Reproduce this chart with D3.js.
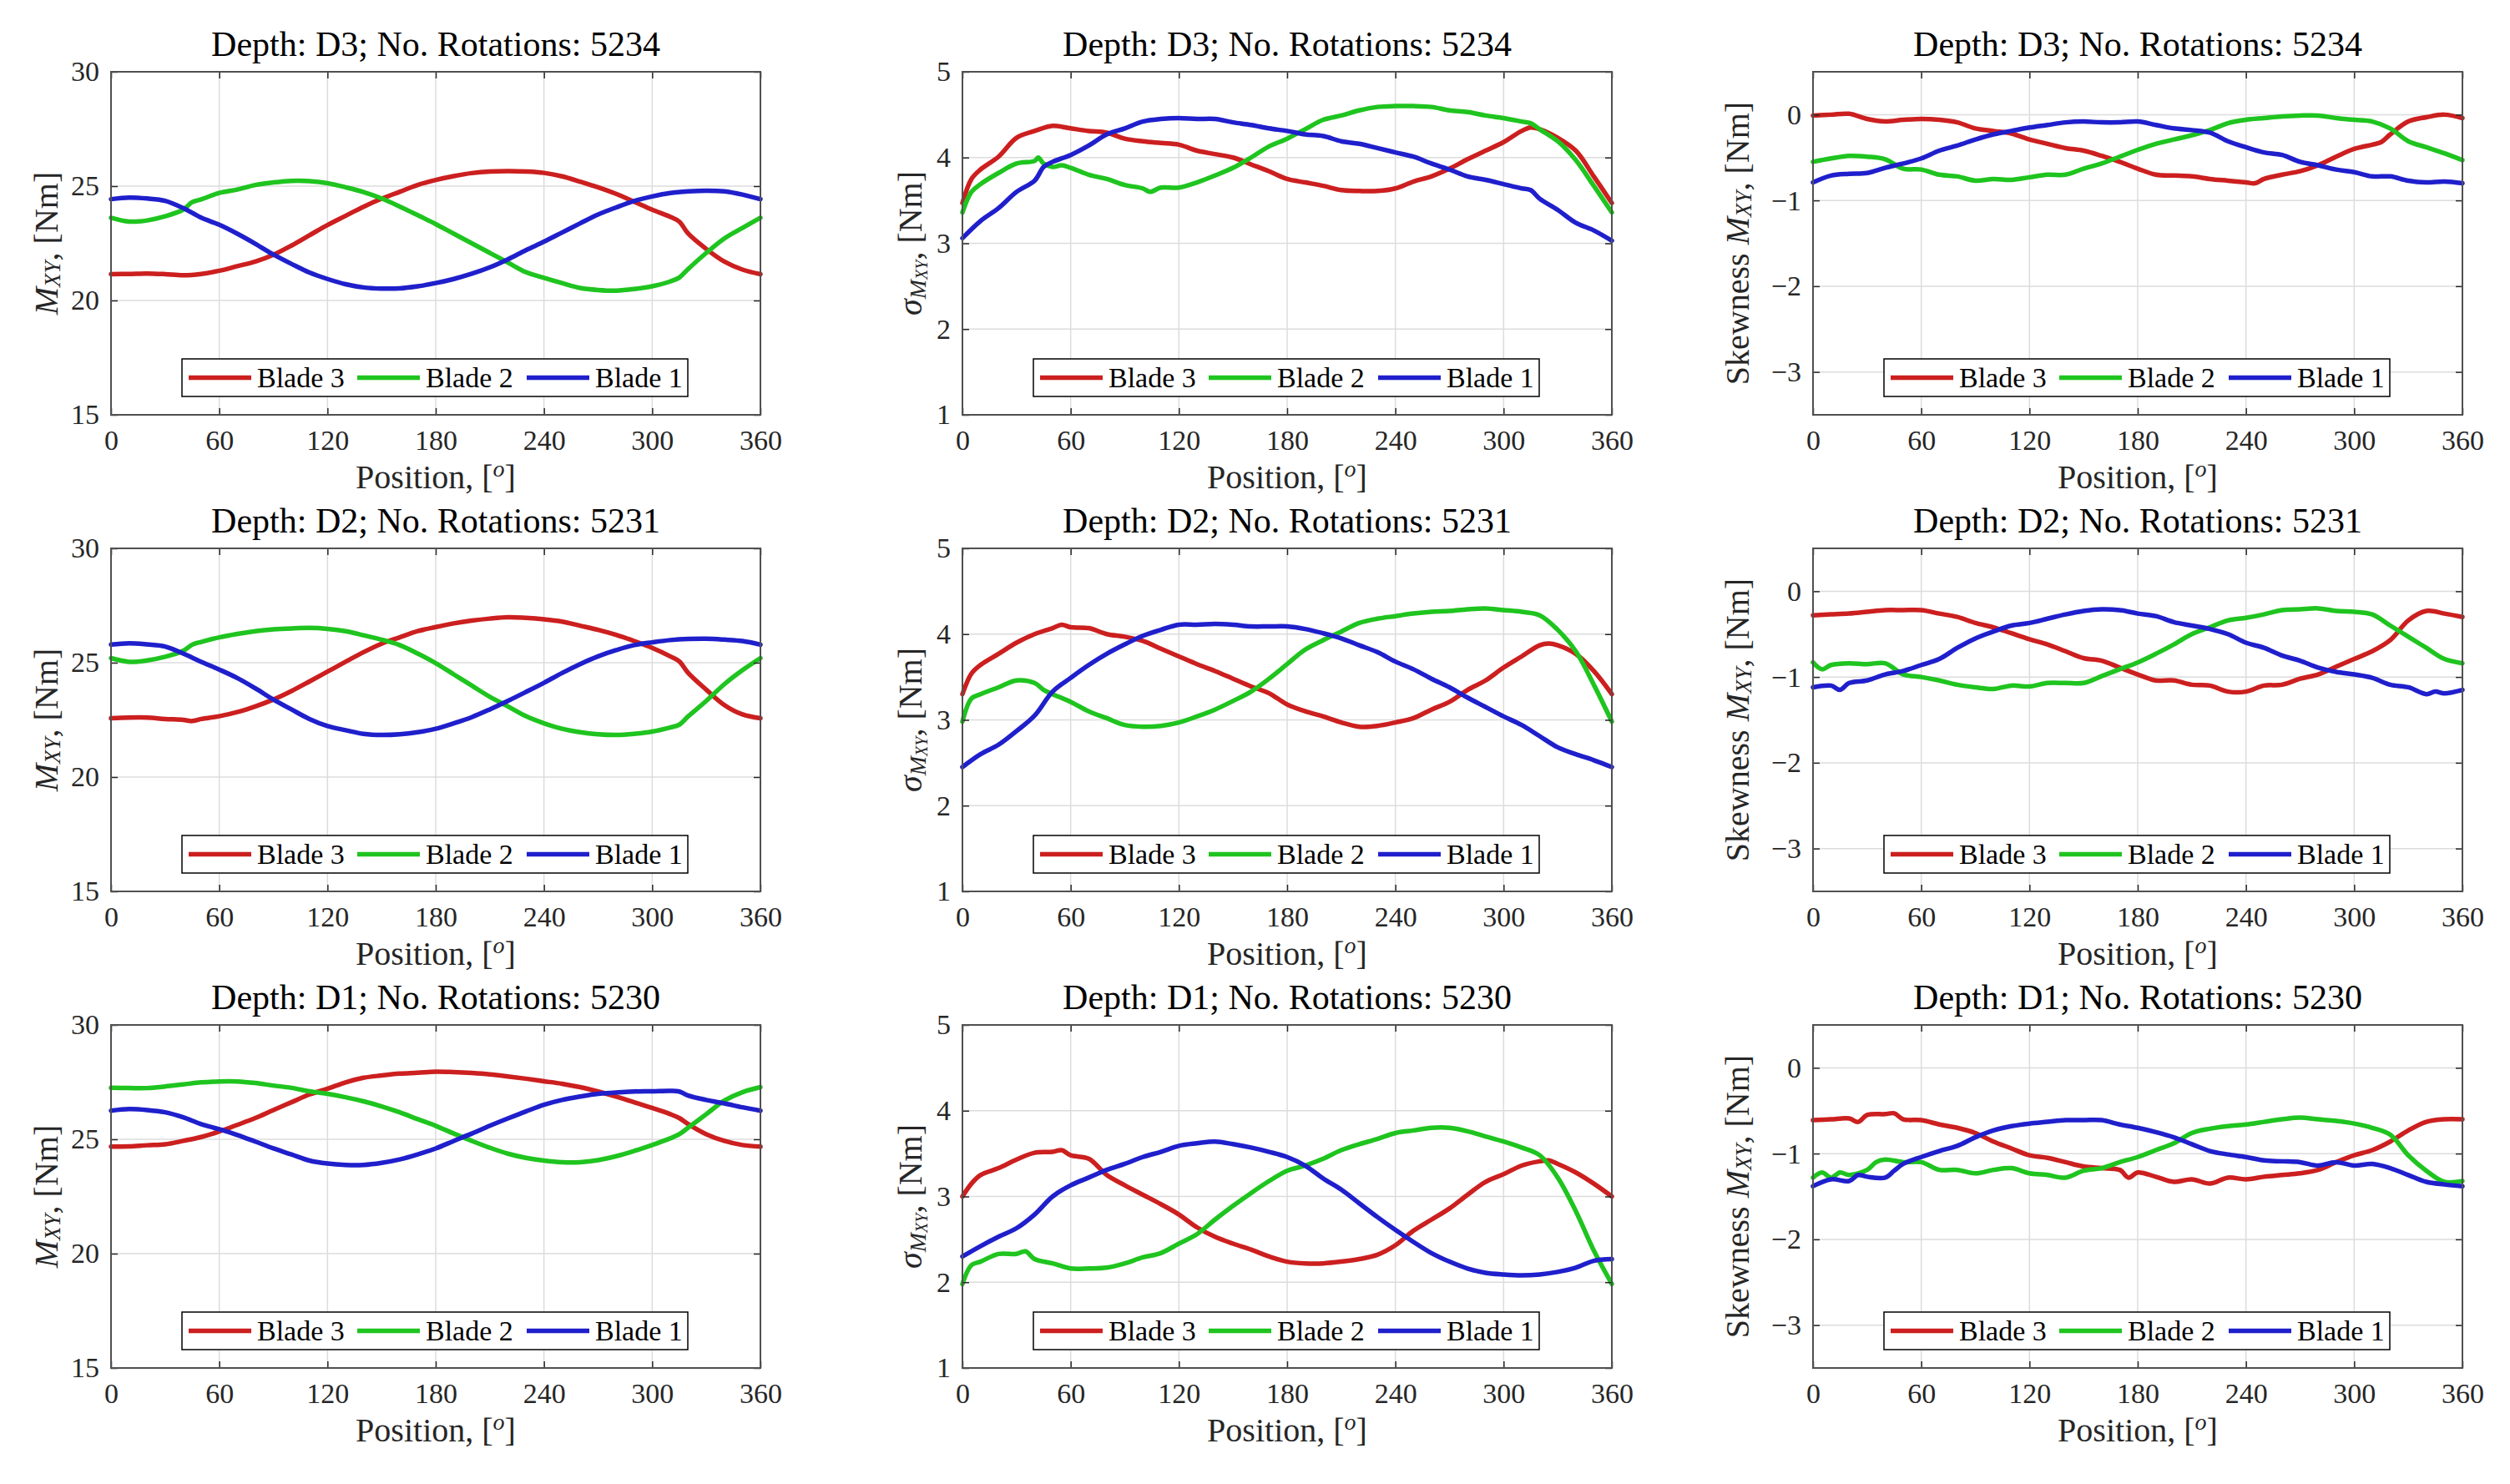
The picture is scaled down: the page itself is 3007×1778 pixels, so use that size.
<!DOCTYPE html>
<html>
<head>
<meta charset="utf-8">
<script src="https://cdn.jsdelivr.net/npm/d3@7"></script>
<style>
  body { margin: 0; background: #fff; }
</style>
</head>
<body>
<script>
// ---- data (position in degrees, value) ----
var depths = ["D3", "D2", "D1"];
var rotations = [5234, 5231, 5230];
var blades = ["Blade 3", "Blade 2", "Blade 1"];
var bladeColors = ["#cc1f1f", "#1fc41f", "#1f1fcc"];
var xTicks = [0, 60, 120, 180, 240, 300, 360];
var meanTicks = [15, 20, 25, 30];
var stdTicks = [1, 2, 3, 4, 5];
var skewTicks = [-3, -2, -1, 0];

// Depth D3 - mean
var meanD3B3 = [[0,21.15],[10,21.16],[20,21.18],[30,21.15],[40,21.1],[50,21.16],[60,21.3],[70,21.5],[80,21.7],[90,22.0],[100,22.4],[110,22.85],[120,23.3],[130,23.7],[140,24.1],[150,24.45],[160,24.75],[170,25.05],[180,25.27],[190,25.44],[200,25.57],[210,25.64],[220,25.66],[230,25.64],[240,25.58],[250,25.43],[260,25.2],[270,24.95],[280,24.66],[290,24.32],[300,23.97],[310,23.66],[315,23.45],[320,22.92],[330,22.25],[340,21.7],[350,21.35],[360,21.15]];
var meanD3B2 = [[0,23.62],[10,23.45],[20,23.5],[30,23.68],[40,23.97],[45,24.3],[50,24.42],[60,24.7],[70,24.85],[80,25.05],[90,25.16],[100,25.23],[110,25.22],[120,25.13],[130,24.95],[140,24.74],[150,24.46],[160,24.11],[170,23.73],[180,23.34],[190,22.92],[200,22.5],[210,22.08],[220,21.66],[230,21.24],[240,20.99],[250,20.76],[260,20.55],[270,20.46],[280,20.43],[290,20.5],[300,20.62],[310,20.83],[315,21.0],[320,21.38],[330,22.08],[340,22.71],[350,23.17],[360,23.62]];
var meanD3B1 = [[0,24.43],[10,24.5],[20,24.46],[30,24.36],[40,24.04],[50,23.62],[60,23.31],[70,22.92],[80,22.48],[90,22.01],[100,21.6],[110,21.22],[120,20.94],[130,20.71],[140,20.57],[150,20.52],[160,20.53],[170,20.62],[180,20.76],[190,20.94],[200,21.17],[210,21.45],[220,21.8],[230,22.2],[240,22.57],[250,22.97],[260,23.37],[270,23.76],[280,24.07],[290,24.35],[300,24.55],[310,24.7],[320,24.77],[330,24.8],[340,24.77],[350,24.63],[360,24.43]];
// Depth D3 - standard deviation
var stdD3B3 = [[0,3.47],[5,3.75],[10,3.86],[20,4.01],[30,4.23],[40,4.31],[50,4.37],[60,4.34],[70,4.31],[80,4.29],[90,4.22],[100,4.19],[110,4.17],[120,4.15],[130,4.08],[140,4.04],[150,4.0],[160,3.92],[170,3.84],[180,3.75],[190,3.71],[200,3.67],[210,3.62],[220,3.61],[230,3.61],[240,3.64],[250,3.72],[260,3.78],[270,3.87],[280,3.98],[290,4.08],[300,4.18],[310,4.31],[315,4.35],[320,4.33],[330,4.23],[340,4.08],[350,3.78],[360,3.47]];
var stdD3B2 = [[0,3.36],[5,3.6],[10,3.69],[20,3.82],[30,3.93],[40,3.96],[42,4.0],[45,3.93],[50,3.89],[55,3.91],[60,3.88],[70,3.8],[80,3.75],[90,3.68],[100,3.64],[104,3.6],[110,3.65],[120,3.65],[130,3.71],[140,3.79],[150,3.88],[160,4.0],[170,4.13],[180,4.22],[190,4.33],[200,4.44],[210,4.49],[220,4.55],[230,4.59],[240,4.6],[250,4.6],[260,4.59],[270,4.55],[280,4.53],[290,4.49],[300,4.46],[310,4.42],[315,4.4],[320,4.33],[330,4.19],[340,3.97],[350,3.67],[360,3.36]];
var stdD3B1 = [[0,3.06],[10,3.26],[20,3.41],[30,3.6],[40,3.73],[45,3.89],[50,3.95],[60,4.03],[70,4.14],[80,4.27],[90,4.34],[100,4.42],[110,4.45],[120,4.46],[130,4.45],[140,4.45],[150,4.41],[160,4.38],[170,4.34],[180,4.31],[190,4.27],[200,4.25],[210,4.19],[220,4.16],[230,4.11],[240,4.06],[250,4.01],[260,3.93],[270,3.86],[280,3.78],[290,3.74],[300,3.69],[310,3.64],[315,3.62],[320,3.52],[330,3.39],[340,3.24],[350,3.15],[360,3.03]];
// Depth D3 - skewness
var skewD3B3 = [[0,-0.01],[10,0.0],[20,0.01],[30,-0.05],[40,-0.08],[50,-0.06],[60,-0.05],[70,-0.06],[80,-0.09],[90,-0.16],[100,-0.19],[110,-0.22],[120,-0.29],[130,-0.34],[140,-0.39],[150,-0.42],[160,-0.48],[170,-0.55],[180,-0.63],[190,-0.7],[200,-0.71],[210,-0.72],[220,-0.75],[230,-0.77],[240,-0.79],[245,-0.8],[250,-0.75],[260,-0.7],[270,-0.66],[280,-0.59],[290,-0.49],[300,-0.4],[310,-0.35],[315,-0.32],[320,-0.23],[330,-0.08],[340,-0.03],[350,0.0],[360,-0.04]];
var skewD3B2 = [[0,-0.55],[10,-0.51],[20,-0.48],[30,-0.49],[40,-0.52],[50,-0.63],[60,-0.64],[70,-0.7],[80,-0.72],[90,-0.77],[100,-0.75],[110,-0.76],[120,-0.73],[130,-0.7],[140,-0.7],[150,-0.63],[160,-0.57],[170,-0.49],[180,-0.41],[190,-0.34],[200,-0.29],[210,-0.24],[220,-0.18],[230,-0.1],[240,-0.06],[250,-0.04],[260,-0.02],[270,-0.01],[280,-0.01],[290,-0.04],[300,-0.06],[310,-0.08],[320,-0.16],[330,-0.31],[340,-0.38],[350,-0.45],[360,-0.53]];
var skewD3B1 = [[0,-0.79],[10,-0.71],[20,-0.69],[30,-0.68],[40,-0.62],[50,-0.57],[60,-0.51],[70,-0.42],[80,-0.36],[90,-0.29],[100,-0.23],[110,-0.19],[120,-0.15],[130,-0.12],[140,-0.09],[150,-0.08],[160,-0.09],[170,-0.09],[180,-0.08],[190,-0.12],[200,-0.16],[210,-0.18],[220,-0.21],[230,-0.31],[240,-0.38],[250,-0.44],[260,-0.47],[270,-0.55],[280,-0.59],[290,-0.64],[300,-0.67],[310,-0.72],[320,-0.72],[330,-0.77],[340,-0.79],[350,-0.78],[360,-0.8]];

// Depth D2 - mean
var meanD2B3 = [[0,22.57],[10,22.6],[20,22.6],[30,22.54],[40,22.5],[45,22.45],[50,22.54],[60,22.66],[70,22.84],[80,23.09],[90,23.39],[100,23.76],[110,24.18],[120,24.61],[130,25.04],[140,25.46],[150,25.83],[160,26.11],[170,26.38],[180,26.56],[190,26.72],[200,26.84],[210,26.93],[220,26.99],[230,26.96],[240,26.9],[250,26.8],[260,26.62],[270,26.44],[280,26.22],[290,25.95],[300,25.65],[310,25.28],[315,25.06],[320,24.55],[330,23.82],[340,23.15],[350,22.74],[360,22.57]];
var meanD2B2 = [[0,25.2],[10,25.04],[20,25.1],[30,25.26],[40,25.52],[45,25.79],[50,25.91],[60,26.11],[70,26.26],[80,26.38],[90,26.46],[100,26.5],[110,26.52],[120,26.48],[130,26.38],[140,26.2],[150,26.01],[160,25.77],[170,25.4],[180,24.98],[190,24.49],[200,24.0],[210,23.51],[220,23.09],[230,22.66],[240,22.35],[250,22.11],[260,21.96],[270,21.87],[280,21.84],[290,21.89],[300,21.99],[310,22.17],[315,22.29],[320,22.66],[330,23.33],[340,24.06],[350,24.67],[360,25.2]];
var meanD2B1 = [[0,25.79],[10,25.85],[20,25.8],[30,25.71],[40,25.4],[50,25.04],[60,24.7],[70,24.33],[80,23.88],[90,23.39],[100,22.96],[110,22.54],[120,22.23],[130,22.05],[140,21.89],[150,21.84],[160,21.87],[170,21.96],[180,22.11],[190,22.35],[200,22.62],[210,22.96],[220,23.33],[230,23.72],[240,24.12],[250,24.55],[260,24.94],[270,25.28],[280,25.55],[290,25.77],[300,25.89],[310,25.99],[320,26.04],[330,26.05],[340,26.01],[350,25.95],[360,25.79]];
// Depth D2 - standard deviation
var stdD2B3 = [[0,3.3],[5,3.54],[10,3.64],[20,3.77],[30,3.9],[40,4.0],[50,4.07],[55,4.11],[60,4.08],[70,4.07],[80,4.0],[90,3.97],[100,3.92],[110,3.83],[120,3.74],[130,3.65],[140,3.57],[150,3.48],[160,3.39],[170,3.31],[180,3.18],[190,3.1],[200,3.04],[210,2.97],[220,2.92],[230,2.93],[240,2.97],[250,3.02],[260,3.12],[270,3.21],[280,3.35],[290,3.46],[300,3.61],[310,3.74],[320,3.87],[325,3.89],[330,3.87],[340,3.77],[350,3.57],[360,3.3]];
var stdD2B2 = [[0,2.98],[5,3.25],[10,3.3],[20,3.38],[30,3.46],[40,3.43],[45,3.35],[50,3.3],[60,3.21],[70,3.1],[80,3.02],[90,2.94],[100,2.92],[110,2.93],[120,2.97],[130,3.04],[140,3.12],[150,3.22],[160,3.33],[170,3.48],[180,3.65],[190,3.82],[200,3.93],[210,4.03],[220,4.13],[230,4.18],[240,4.21],[250,4.24],[260,4.26],[270,4.27],[280,4.29],[290,4.3],[300,4.28],[310,4.26],[320,4.22],[330,4.05],[340,3.8],[350,3.41],[360,2.98]];
var stdD2B1 = [[0,2.45],[10,2.6],[20,2.71],[30,2.87],[40,3.05],[50,3.33],[60,3.49],[70,3.64],[80,3.77],[90,3.88],[100,3.98],[110,4.05],[120,4.11],[130,4.11],[140,4.12],[150,4.11],[160,4.09],[170,4.09],[180,4.09],[190,4.06],[200,4.01],[210,3.95],[220,3.87],[230,3.79],[240,3.68],[250,3.59],[260,3.48],[270,3.38],[280,3.26],[290,3.15],[300,3.04],[310,2.94],[320,2.81],[330,2.68],[340,2.6],[350,2.53],[360,2.45]];
// Depth D2 - skewness
var skewD2B3 = [[0,-0.28],[10,-0.27],[20,-0.26],[30,-0.24],[40,-0.22],[50,-0.22],[60,-0.22],[70,-0.26],[80,-0.3],[90,-0.37],[100,-0.42],[110,-0.49],[120,-0.56],[130,-0.62],[140,-0.7],[150,-0.78],[160,-0.81],[170,-0.89],[180,-0.97],[190,-1.04],[200,-1.04],[210,-1.09],[220,-1.1],[230,-1.17],[240,-1.17],[250,-1.1],[260,-1.09],[270,-1.02],[280,-0.97],[290,-0.88],[300,-0.79],[310,-0.7],[320,-0.57],[330,-0.34],[340,-0.23],[350,-0.26],[360,-0.3]];
var skewD2B2 = [[0,-0.83],[5,-0.91],[10,-0.86],[20,-0.84],[30,-0.85],[40,-0.84],[50,-0.97],[60,-1.0],[70,-1.04],[80,-1.09],[90,-1.12],[100,-1.14],[110,-1.1],[120,-1.11],[130,-1.07],[140,-1.07],[150,-1.07],[160,-0.99],[170,-0.91],[180,-0.83],[190,-0.73],[200,-0.62],[210,-0.5],[220,-0.42],[230,-0.34],[240,-0.31],[250,-0.27],[260,-0.22],[270,-0.21],[280,-0.2],[290,-0.23],[300,-0.24],[310,-0.27],[320,-0.4],[330,-0.53],[340,-0.66],[350,-0.79],[360,-0.84]];
var skewD2B1 = [[0,-1.12],[10,-1.1],[15,-1.15],[20,-1.07],[30,-1.04],[40,-0.97],[50,-0.93],[60,-0.86],[70,-0.79],[80,-0.66],[90,-0.55],[100,-0.47],[110,-0.4],[120,-0.37],[130,-0.32],[140,-0.27],[150,-0.23],[160,-0.21],[170,-0.22],[180,-0.26],[190,-0.29],[200,-0.36],[210,-0.4],[220,-0.44],[230,-0.5],[240,-0.6],[250,-0.66],[260,-0.75],[270,-0.81],[280,-0.89],[290,-0.94],[300,-0.97],[310,-1.01],[320,-1.09],[330,-1.12],[340,-1.2],[345,-1.17],[350,-1.19],[360,-1.15]];

// Depth D1 - mean
var meanD1B3 = [[0,24.68],[10,24.69],[20,24.74],[30,24.78],[40,24.93],[50,25.1],[60,25.34],[70,25.63],[80,25.93],[90,26.28],[100,26.62],[110,26.96],[120,27.21],[130,27.49],[140,27.69],[150,27.79],[160,27.87],[170,27.91],[180,27.96],[190,27.94],[200,27.9],[210,27.84],[220,27.75],[230,27.65],[240,27.54],[250,27.43],[260,27.28],[270,27.09],[280,26.87],[290,26.62],[300,26.37],[310,26.1],[315,25.93],[320,25.66],[330,25.22],[340,24.93],[350,24.75],[360,24.68]];
var meanD1B2 = [[0,27.25],[10,27.24],[20,27.24],[30,27.31],[40,27.4],[50,27.49],[60,27.53],[70,27.53],[80,27.46],[90,27.35],[100,27.25],[110,27.1],[120,26.99],[130,26.84],[140,26.66],[150,26.44],[160,26.18],[170,25.88],[180,25.59],[190,25.25],[200,24.93],[210,24.63],[220,24.37],[230,24.19],[240,24.07],[250,24.0],[260,24.0],[270,24.09],[280,24.26],[290,24.49],[300,24.75],[310,25.04],[315,25.22],[320,25.51],[330,26.1],[340,26.69],[350,27.06],[360,27.28]];
var meanD1B1 = [[0,26.25],[10,26.32],[20,26.28],[30,26.18],[40,25.96],[50,25.66],[60,25.44],[70,25.19],[80,24.9],[90,24.6],[100,24.34],[110,24.07],[120,23.94],[130,23.88],[140,23.88],[150,23.97],[160,24.12],[170,24.34],[180,24.6],[190,24.93],[200,25.25],[210,25.59],[220,25.91],[230,26.22],[240,26.51],[250,26.72],[260,26.87],[270,26.99],[280,27.04],[290,27.09],[300,27.1],[310,27.12],[315,27.09],[320,26.91],[330,26.72],[340,26.57],[350,26.4],[360,26.25]];
// Depth D1 - standard deviation
var stdD1B3 = [[0,3.0],[5,3.15],[10,3.25],[20,3.33],[30,3.43],[40,3.51],[50,3.52],[55,3.54],[60,3.48],[70,3.44],[80,3.25],[90,3.13],[100,3.02],[110,2.91],[120,2.79],[130,2.64],[140,2.53],[150,2.45],[160,2.38],[170,2.3],[180,2.24],[190,2.22],[200,2.22],[210,2.24],[220,2.27],[230,2.32],[240,2.43],[250,2.6],[260,2.73],[270,2.86],[280,3.02],[290,3.17],[300,3.26],[310,3.36],[320,3.41],[325,3.42],[330,3.38],[340,3.28],[350,3.15],[360,3.0]];
var stdD1B2 = [[0,1.98],[5,2.2],[10,2.24],[20,2.33],[30,2.33],[35,2.36],[40,2.27],[50,2.22],[60,2.16],[70,2.16],[80,2.17],[90,2.22],[100,2.29],[110,2.34],[120,2.45],[130,2.56],[140,2.73],[150,2.89],[160,3.04],[170,3.18],[180,3.3],[190,3.36],[200,3.44],[210,3.54],[220,3.61],[230,3.67],[240,3.74],[250,3.77],[260,3.8],[270,3.8],[280,3.76],[290,3.7],[300,3.64],[310,3.57],[320,3.48],[330,3.22],[340,2.83],[350,2.37],[360,1.98]];
var stdD1B1 = [[0,2.3],[10,2.42],[20,2.53],[30,2.63],[40,2.79],[50,3.0],[60,3.13],[70,3.22],[80,3.31],[90,3.38],[100,3.46],[110,3.52],[120,3.59],[130,3.62],[140,3.64],[150,3.61],[160,3.57],[170,3.52],[180,3.46],[190,3.36],[200,3.21],[210,3.08],[220,2.92],[230,2.76],[240,2.61],[250,2.47],[260,2.34],[270,2.24],[280,2.16],[290,2.11],[300,2.09],[310,2.08],[320,2.09],[330,2.12],[340,2.17],[350,2.25],[360,2.27]];
// Depth D1 - skewness
var skewD1B3 = [[0,-0.61],[10,-0.6],[20,-0.59],[25,-0.63],[30,-0.55],[40,-0.54],[45,-0.53],[50,-0.6],[60,-0.61],[70,-0.66],[80,-0.7],[90,-0.76],[100,-0.86],[110,-0.94],[120,-1.02],[130,-1.05],[140,-1.1],[150,-1.15],[160,-1.17],[170,-1.19],[175,-1.28],[180,-1.22],[190,-1.27],[200,-1.33],[210,-1.3],[220,-1.35],[230,-1.28],[240,-1.3],[250,-1.27],[260,-1.25],[270,-1.23],[280,-1.19],[290,-1.1],[300,-1.02],[310,-0.96],[320,-0.86],[330,-0.73],[340,-0.63],[350,-0.6],[360,-0.6]];
var skewD1B2 = [[0,-1.28],[5,-1.22],[10,-1.28],[15,-1.22],[20,-1.25],[30,-1.19],[35,-1.1],[40,-1.07],[50,-1.1],[60,-1.1],[70,-1.19],[80,-1.19],[90,-1.23],[100,-1.19],[110,-1.17],[120,-1.23],[130,-1.25],[140,-1.28],[150,-1.2],[160,-1.17],[170,-1.1],[180,-1.04],[190,-0.96],[200,-0.88],[210,-0.76],[220,-0.71],[230,-0.68],[240,-0.66],[250,-0.63],[260,-0.6],[270,-0.58],[280,-0.6],[290,-0.62],[300,-0.65],[310,-0.7],[320,-0.78],[330,-1.02],[340,-1.2],[350,-1.33],[360,-1.32]];
var skewD1B1 = [[0,-1.38],[10,-1.3],[20,-1.32],[25,-1.25],[30,-1.27],[40,-1.28],[45,-1.2],[50,-1.12],[60,-1.04],[70,-0.97],[80,-0.91],[90,-0.81],[100,-0.73],[110,-0.68],[120,-0.65],[130,-0.63],[140,-0.61],[150,-0.61],[160,-0.61],[170,-0.66],[180,-0.7],[190,-0.75],[200,-0.81],[210,-0.89],[220,-0.97],[230,-1.01],[240,-1.04],[250,-1.08],[260,-1.09],[270,-1.1],[280,-1.14],[290,-1.1],[300,-1.14],[310,-1.12],[320,-1.17],[330,-1.25],[340,-1.33],[350,-1.36],[360,-1.38]];

// rows = depth, columns = statistic
var panelSeries = [
  [[meanD3B3, meanD3B2, meanD3B1], [stdD3B3, stdD3B2, stdD3B1], [skewD3B3, skewD3B2, skewD3B1]],
  [[meanD2B3, meanD2B2, meanD2B1], [stdD2B3, stdD2B2, stdD2B1], [skewD2B3, skewD2B2, skewD2B1]],
  [[meanD1B3, meanD1B2, meanD1B1], [stdD1B3, stdD1B2, stdD1B1], [skewD1B3, skewD1B2, skewD1B1]]
];
var yDomains = [[15, 30], [1, 5], [-3.5, 0.5]];
var yTickSets = [meanTicks, stdTicks, skewTicks];

// ---- layout ----
var W = 3007, H = 1778;
var colLeft = [133, 1153, 2172];
var rowTop = [86, 657, 1228];
var pw = 778, ph = 411;
var ylabelOffset = [78, 63, 91];
var serif = "'Liberation Serif', 'DejaVu Serif', 'Times New Roman', serif";

var svg = d3.select("body").append("svg")
    .attr("width", W).attr("height", H)
    .attr("viewBox", "0 0 " + W + " " + H)
    .attr("font-family", serif);

function yLabel(g, col) {
    var t = g.append("text")
        .attr("transform", "translate(" + (-ylabelOffset[col]) + "," + (ph / 2) + ") rotate(-90)")
        .attr("text-anchor", "middle")
        .attr("dominant-baseline", "central")
        .attr("fill", "#262626")
        .attr("font-family", serif)
        .attr("font-size", 40);
    if (col == 0) {
        t.append("tspan").attr("font-style", "italic").text("M");
        t.append("tspan").attr("font-style", "italic").attr("font-size", 27).attr("dy", 8).text("XY");
        t.append("tspan").attr("dy", -8).text(",  [Nm]");
    } else if (col == 1) {
        t.append("tspan").attr("font-style", "italic").text("σ");
        t.append("tspan").attr("font-style", "italic").attr("font-size", 28).attr("dy", 9).text("M");
        t.append("tspan").attr("font-style", "italic").attr("font-size", 20).attr("dy", 5).text("XY");
        t.append("tspan").attr("dy", -14).text(",  [Nm]");
    } else {
        t.append("tspan").text("Skewness  ");
        t.append("tspan").attr("font-style", "italic").text("M");
        t.append("tspan").attr("font-style", "italic").attr("font-size", 27).attr("dy", 8).text("XY");
        t.append("tspan").attr("dy", -8).text(",  [Nm]");
    }
}

function drawPanel(row, col) {
    var g = svg.append("g").attr("transform", "translate(" + colLeft[col] + "," + rowTop[row] + ")");
    var x = d3.scaleLinear().domain([0, 360]).range([0, pw]);
    var y = d3.scaleLinear().domain(yDomains[col]).range([ph, 0]);
    var yt = yTickSets[col];

    // grid
    g.append("g").selectAll("line").data(xTicks).enter().append("line")
        .attr("x1", function (d) { return x(d); }).attr("x2", function (d) { return x(d); })
        .attr("y1", 0).attr("y2", ph)
        .attr("stroke", "#dcdcdc").attr("stroke-width", 1.5);
    g.append("g").selectAll("line").data(yt).enter().append("line")
        .attr("x1", 0).attr("x2", pw)
        .attr("y1", function (d) { return y(d); }).attr("y2", function (d) { return y(d); })
        .attr("stroke", "#dcdcdc").attr("stroke-width", 1.5);

    // series
    var line = d3.line()
        .x(function (d) { return x(d[0]); })
        .y(function (d) { return y(d[1]); })
        .curve(d3.curveCatmullRom.alpha(0.5));
    var series = panelSeries[row][col];
    for (var i = 0; i < series.length; i++) {
        g.append("path").datum(series[i])
            .attr("d", line)
            .attr("fill", "none")
            .attr("stroke", bladeColors[i])
            .attr("stroke-width", 5.5)
            .attr("stroke-linejoin", "round")
            .attr("stroke-linecap", "round");
    }

    // axes, ticks pointing inwards
    var fmt = d3.format("d");
    var ax = g.append("g").attr("transform", "translate(0," + ph + ")")
        .call(d3.axisBottom(x).tickValues(xTicks).tickSize(-8).tickSizeOuter(0).tickPadding(18).tickFormat(fmt));
    var ay = g.append("g")
        .call(d3.axisLeft(y).tickValues(yt).tickSize(-8).tickSizeOuter(0).tickPadding(14).tickFormat(fmt));
    g.append("g")
        .call(d3.axisTop(x).tickValues(xTicks).tickSize(-8).tickSizeOuter(0).tickFormat(""));
    g.append("g").attr("transform", "translate(" + pw + ",0)")
        .call(d3.axisRight(y).tickValues(yt).tickSize(-8).tickSizeOuter(0).tickFormat(""));
    g.selectAll(".domain").remove();
    g.selectAll(".tick line").attr("stroke", "#262626").attr("stroke-width", 1.5);
    [ax, ay].forEach(function (a) {
        a.attr("font-family", serif).attr("font-size", 34);
        a.selectAll("text").attr("font-family", serif).attr("font-size", 34).attr("fill", "#262626");
    });

    // frame
    g.append("rect").attr("x", 0).attr("y", 0).attr("width", pw).attr("height", ph)
        .attr("fill", "none").attr("stroke", "#505050").attr("stroke-width", 2);

    // title
    g.append("text").attr("x", pw / 2).attr("y", -19)
        .attr("text-anchor", "middle").attr("font-family", serif).attr("font-size", 42).attr("fill", "#000")
        .text("Depth: " + depths[row] + "; No. Rotations: " + rotations[row]);

    // x label
    var xl = g.append("text").attr("x", pw / 2).attr("y", ph + 88)
        .attr("text-anchor", "middle").attr("font-family", serif).attr("font-size", 40).attr("fill", "#262626");
    xl.append("tspan").text("Position, [");
    xl.append("tspan").attr("font-style", "italic").attr("font-size", 28).attr("dy", -14).text("o");
    xl.append("tspan").attr("dy", 14).text("]");

    yLabel(g, col);

    // legend
    var lg = g.append("g").attr("transform", "translate(85," + (ph - 67) + ")");
    lg.append("rect").attr("width", 606).attr("height", 45)
        .attr("fill", "#fff").attr("stroke", "#000").attr("stroke-width", 1.5);
    var itemX = [8, 210, 413];
    for (var k = 0; k < blades.length; k++) {
        lg.append("line").attr("x1", itemX[k]).attr("x2", itemX[k] + 75)
            .attr("y1", 22.5).attr("y2", 22.5)
            .attr("stroke", bladeColors[k]).attr("stroke-width", 5.5);
        lg.append("text").attr("x", itemX[k] + 82).attr("y", 22.5)
            .attr("dominant-baseline", "central").attr("font-family", serif).attr("font-size", 34).attr("fill", "#000")
            .text(blades[k]);
    }
}

for (var r = 0; r < 3; r++) {
    for (var c = 0; c < 3; c++) {
        drawPanel(r, c);
    }
}
</script>
</body>
</html>
